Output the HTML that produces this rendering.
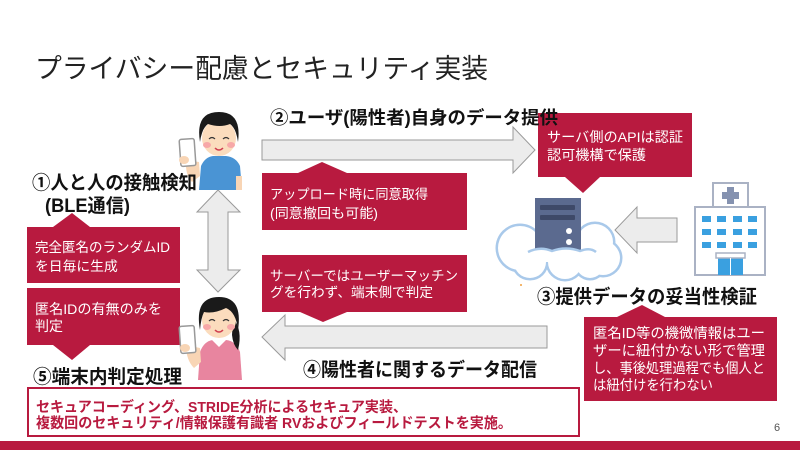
<!DOCTYPE html>
<html><head><meta charset="utf-8">
<style>
html,body{margin:0;padding:0;background:#fff;}
svg{display:block;}
text{font-family:"Liberation Sans","Noto Sans CJK JP",sans-serif;}
.w{fill:#fff;}
.b{font-weight:bold;fill:#111;}
</style></head>
<body>
<svg width="800" height="450" viewBox="0 0 800 450" xmlns="http://www.w3.org/2000/svg">
<rect width="800" height="450" fill="#fff"/>
<!-- Title -->
<text x="35" y="78" font-size="27" fill="#222" textLength="453" lengthAdjust="spacingAndGlyphs">プライバシー配慮とセキュリティ実装</text>

<!-- Arrows -->
<g fill="#ececec" stroke="#9a9a9a" stroke-width="1">
<polygon points="262,140 513,140 513,127 535,150 513,173 513,160 262,160"/>
<polygon points="547,326 285,326 285,315 262,337 285,360 285,348 547,348"/>
<polygon points="677,218 637,218 637,207 615,230 637,253 637,242 677,242"/>
<polygon points="218,190 240,212 228,212 228,270 240,270 218,292 197,270 208,270 208,212 197,212"/>
</g>

<!-- Callouts -->
<g fill="#b81a3f">
<path d="M27,227 H53 L72,213 L90,227 H180 V283 H27 Z"/>
<path d="M27,288 H180 V345 H90 L72,360 L53,345 H27 Z"/>
<path d="M262,173 H298 L322,162 L347,173 H467 V230 H262 Z"/>
<path d="M262,255 H467 V312 H347 L323,322 L300,312 H262 Z"/>
<path d="M538,113 H692 V177 H600 L583,193 L565,177 H538 Z"/>
<path d="M584,317 H617 L642,305 L665,317 H777 V401 H584 Z"/>
</g>
<g class="w">
<text x="35" y="252" font-size="13.8" class="w" textLength="135" lengthAdjust="spacingAndGlyphs">完全匿名のランダムID</text>
<text x="35" y="271" font-size="13.8" class="w">を日毎に生成</text>
<text x="35" y="314" font-size="14" class="w" textLength="127" lengthAdjust="spacingAndGlyphs">匿名IDの有無のみを</text>
<text x="35" y="331" font-size="14" class="w">判定</text>
<text x="270" y="199" font-size="13.5" class="w" textLength="158" lengthAdjust="spacingAndGlyphs">アップロード時に同意取得</text>
<text x="270" y="218" font-size="13.5" class="w" textLength="108" lengthAdjust="spacingAndGlyphs">(同意撤回も可能)</text>
<text x="270" y="280.5" font-size="13.5" class="w" textLength="188" lengthAdjust="spacingAndGlyphs">サーバーではユーザーマッチン</text>
<text x="270" y="297" font-size="13.5" class="w" textLength="163" lengthAdjust="spacingAndGlyphs">グを行わず、端末側で判定</text>
<text x="547" y="142" font-size="14" class="w" textLength="136" lengthAdjust="spacingAndGlyphs">サーバ側のAPIは認証</text>
<text x="547" y="160" font-size="14" class="w" textLength="99" lengthAdjust="spacingAndGlyphs">認可機構で保護</text>
<text x="593" y="338" font-size="14.3" class="w" textLength="172" lengthAdjust="spacingAndGlyphs">匿名ID等の機微情報はユー</text>
<text x="593" y="355.5" font-size="14.3" class="w" textLength="172" lengthAdjust="spacingAndGlyphs">ザーに紐付かない形で管理</text>
<text x="593" y="373" font-size="14.3" class="w" textLength="172" lengthAdjust="spacingAndGlyphs">し、事後処理過程でも個人と</text>
<text x="593" y="390" font-size="14.3" class="w" textLength="120" lengthAdjust="spacingAndGlyphs">は紐付けを行わない</text>
</g>

<!-- Cloud -->
<g fill="#a9c9ea">
<circle cx="520" cy="248" r="24.5"/><circle cx="555" cy="240" r="20.5"/><circle cx="595" cy="242" r="20.5"/>
<circle cx="603" cy="258" r="19.5"/><circle cx="530" cy="262" r="18.5"/><circle cx="565" cy="262" r="19.5"/><circle cx="590" cy="264" r="16.5"/>
</g>
<g fill="#fff">
<circle cx="520" cy="248" r="22"/><circle cx="555" cy="240" r="18"/><circle cx="595" cy="242" r="18"/>
<circle cx="603" cy="258" r="17"/><circle cx="530" cy="262" r="16"/><circle cx="565" cy="262" r="17"/><circle cx="590" cy="264" r="14"/>
</g>
<!-- Server -->
<rect x="535" y="198" width="46" height="58" fill="#5b6a8f"/>
<rect x="540" y="205" width="35" height="5" rx="1" fill="#3e4968"/>
<rect x="540" y="215" width="35" height="5" rx="1" fill="#3e4968"/>
<circle cx="569" cy="231" r="3" fill="#fff"/>
<circle cx="569" cy="242" r="3" fill="#fff"/>
<path d="M528,252 Q540,246 552,251 Q566,246 580,251 Q590,247 596,252 L596,262 L528,262 Z" fill="#fff"/>
<path d="M528,252 Q540,246 552,251 Q566,246 580,251 Q590,247 596,252" fill="none" stroke="#a9c9ea" stroke-width="2.5"/>
<circle cx="521" cy="285" r="1" fill="#f0a040"/>

<!-- Hospital -->
<rect x="713" y="183" width="35" height="24" fill="#fff" stroke="#aab2c4" stroke-width="2"/>
<rect x="727" y="187" width="7" height="17" fill="#8592b0"/>
<rect x="722" y="192" width="17" height="7" fill="#8592b0"/>
<rect x="695" y="207" width="70" height="68" fill="#fff" stroke="#aab2c4" stroke-width="2"/>
<g fill="#3aa0e0">
<rect x="702" y="216" width="9" height="6"/><rect x="717" y="216" width="9" height="6"/><rect x="733" y="216" width="9" height="6"/><rect x="748" y="216" width="9" height="6"/>
<rect x="702" y="229" width="9" height="6"/><rect x="717" y="229" width="9" height="6"/><rect x="733" y="229" width="9" height="6"/><rect x="748" y="229" width="9" height="6"/>
<rect x="702" y="242" width="9" height="6"/><rect x="717" y="242" width="9" height="6"/><rect x="733" y="242" width="9" height="6"/><rect x="748" y="242" width="9" height="6"/>
<rect x="718" y="258" width="25" height="17"/>
</g>
<rect x="716" y="253" width="29" height="5" fill="#fff" stroke="#aab2c4" stroke-width="1.5"/>
<line x1="730.5" y1="258" x2="730.5" y2="275" stroke="#fff" stroke-width="1"/>

<!-- Man -->
<g>
<path d="M199,190 L201,166 Q205,157 213,156 L226,156 Q236,157 240,166 L242,190 Z" fill="#4a94d4"/>
<rect x="236" y="176" width="6" height="14" fill="#f8d5b5"/>
<path d="M186,160 Q185,175 192,182 L200,176 L199,162 Z" fill="#f8d5b5"/>
<rect x="180" y="139" width="15" height="27" rx="2" fill="#fff" stroke="#999" stroke-width="1.5" transform="rotate(-4 187 152)"/>
<ellipse cx="184" cy="160" rx="5" ry="4" fill="#f8d5b5"/>
<ellipse cx="219" cy="138" rx="17" ry="18" fill="#fbdcbd"/>
<path d="M200,142 Q195,112 219,112 Q242,112 238,142 Q236,128 230,124 Q220,128 208,124 Q202,128 200,142 Z" fill="#1a1a1a"/>
<ellipse cx="207" cy="145" rx="4" ry="3" fill="#f7a8a8"/>
<ellipse cx="231" cy="145" rx="4" ry="3" fill="#f7a8a8"/>
<path d="M209,139 q3,-3 6,0 M223,139 q3,-3 6,0" stroke="#333" stroke-width="1.2" fill="none"/>
<path d="M215,148 q4,4 8,0" stroke="#d04050" stroke-width="1.5" fill="none"/>
</g>

<!-- Woman -->
<g>
<path d="M198,380 L200,352 Q204,341 213,340 L226,340 Q236,341 240,352 L242,380 Z" fill="#e8859f"/>
<path d="M212,340 L219,347 L226,340 Z" fill="#fff"/>
<path d="M186,345 Q186,360 194,368 L201,362 L200,348 Z" fill="#f8d5b5"/>
<rect x="180" y="326" width="15" height="27" rx="2" fill="#fff" stroke="#999" stroke-width="1.5" transform="rotate(-4 187 339)"/>
<ellipse cx="185" cy="348" rx="5" ry="4" fill="#f8d5b5"/>
<path d="M233,318 Q243,330 238,350 Q233,345 232,335 Z" fill="#1a1a1a"/>
<ellipse cx="219" cy="320" rx="17" ry="18" fill="#fbdcbd"/>
<path d="M200,330 Q194,297 219,297 Q243,297 238,330 Q236,312 226,308 Q214,314 204,312 Q201,318 200,330 Z" fill="#1a1a1a"/>
<ellipse cx="207" cy="327" rx="4" ry="3" fill="#f7a8a8"/>
<ellipse cx="231" cy="327" rx="4" ry="3" fill="#f7a8a8"/>
<path d="M209,321 q3,-3 6,0 M223,321 q3,-3 6,0" stroke="#333" stroke-width="1.2" fill="none"/>
<path d="M215,330 q4,4 8,0" stroke="#d04050" stroke-width="1.5" fill="none"/>
</g>

<!-- Labels (drawn on top) -->
<text x="32" y="189" font-size="19" class="b" textLength="165" lengthAdjust="spacingAndGlyphs">①人と人の接触検知</text>
<text x="45" y="212" font-size="19" class="b" textLength="85" lengthAdjust="spacingAndGlyphs">(BLE通信)</text>
<text x="270" y="124" font-size="18" class="b" textLength="288" lengthAdjust="spacingAndGlyphs">②ユーザ(陽性者)自身のデータ提供</text>
<text x="537" y="303" font-size="19" class="b" textLength="220" lengthAdjust="spacingAndGlyphs">③提供データの妥当性検証</text>
<text x="303" y="376" font-size="19" class="b" textLength="234" lengthAdjust="spacingAndGlyphs">④陽性者に関するデータ配信</text>
<text x="33" y="383" font-size="19" class="b" textLength="149" lengthAdjust="spacingAndGlyphs">⑤端末内判定処理</text>

<!-- Bottom box -->
<rect x="28" y="388" width="551" height="48" fill="#fff" stroke="#b81a3f" stroke-width="2"/>
<text x="36" y="412" font-size="14.5" font-weight="bold" fill="#b81a3f" textLength="371" lengthAdjust="spacingAndGlyphs">セキュアコーディング、STRIDE分析によるセキュア実装、</text>
<text x="36" y="428" font-size="14.5" font-weight="bold" fill="#b81a3f" textLength="476" lengthAdjust="spacingAndGlyphs">複数回のセキュリティ/情報保護有識者 RVおよびフィールドテストを実施。</text>

<text x="774" y="431" font-size="11" fill="#555">6</text>
<rect x="0" y="441" width="800" height="9" fill="#b81a3f"/>
</svg>
</body></html>
